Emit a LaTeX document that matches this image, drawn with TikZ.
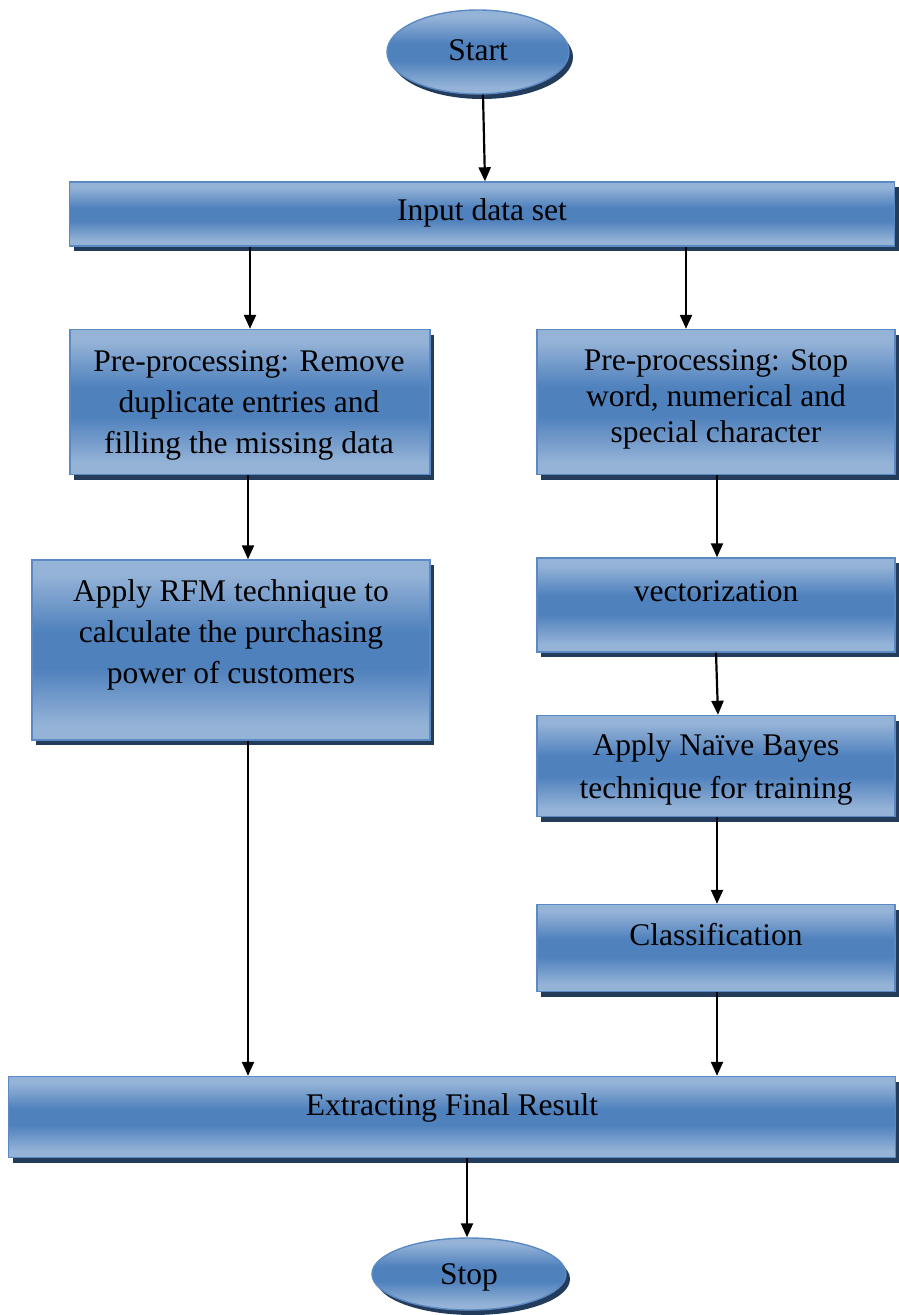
\documentclass[tikz,border=0pt]{standalone}
\usepackage{fontspec}
\setmainfont{Liberation Serif}
\usetikzlibrary{shapes.geometric,shadows,arrows.meta}

\definecolor{boxmid}{RGB}{79,129,189}
\definecolor{boxlight}{RGB}{149,179,215}
\definecolor{boxedge}{RGB}{91,137,196}
\definecolor{boxshade}{RGB}{36,60,92}

% glossy band: light at top and bottom, saturated blue in the middle
\pgfdeclareverticalshading{glossy}{100bp}{%
  color(0bp)=(boxlight); color(29bp)=(boxlight); color(45bp)=(boxmid);
  color(55bp)=(boxmid); color(71bp)=(boxlight); color(100bp)=(boxlight)}

\tikzset{
  x=1pt, y=-1pt,
  base/.style={draw=boxedge, line width=1.4pt, shading=glossy, inner sep=0pt,
    drop shadow={shadow xshift=4pt, shadow yshift=-5pt, fill=boxshade, opacity=1}},
  procbox/.style={base, rectangle},
  terminal/.style={base, ellipse},
  txt/.style={align=center, inner sep=0pt, text=black, font=\fontsize{31.5}{41}\selectfont},
  arr/.style={line width=2.2pt, -{Triangle[length=14pt,width=12pt]}},
}

\begin{document}
\begin{tikzpicture}
\useasboundingbox (0,0) rectangle (899,1315);

% boxes
\node[terminal, minimum width=182pt, minimum height=84pt] (start) at (478,52) {};
\node[procbox, minimum width=825pt, minimum height=64pt] (input) at (482,214) {};
\node[procbox, minimum width=360pt, minimum height=145pt] (prepL) at (250,402) {};
\node[procbox, minimum width=358pt, minimum height=145pt] (prepR) at (716,402) {};
\node[procbox, minimum width=398pt, minimum height=180pt] (rfm) at (231,650) {};
\node[procbox, minimum width=358pt, minimum height=94pt] (vect) at (716,605) {};
\node[procbox, minimum width=358pt, minimum height=101pt] (nb) at (716,766) {};
\node[procbox, minimum width=358pt, minimum height=87pt] (cls) at (716,948) {};
\node[procbox, minimum width=887pt, minimum height=81pt] (final) at (452,1117) {};
\node[terminal, minimum width=194pt, minimum height=72pt] (stop) at (469,1274) {};

% texts
\node[txt] (tStart) at (478,50) {Start};
\node[txt] (tInput) at (482,213) {Input data set};
\node[txt] (tPrepL) at (249,405) {Pre-processing: Remove\\duplicate entries and\\filling the missing data};
\node[txt, font=\fontsize{31.5}{36}\selectfont] (tPrepR) at (716,399) {Pre-processing: Stop\\word, numerical and\\special character};
\node[txt] (tRfm) at (231,635) {Apply RFM technique to\\calculate the purchasing\\power of customers};
\node[txt] (tVect) at (716,591) {vectorization};
\node[txt, font=\fontsize{31.5}{43}\selectfont] (tNb) at (716,769) {Apply Naïve Bayes\\technique for training};
\node[txt] (tCls) at (716,935) {Classification};
\node[txt] (tFinal) at (452,1108) {Extracting Final Result};
\node[txt] (tStop) at (469,1277) {Stop};

% connectors
\draw[arr] ([xshift=5pt]start.south) -- ([xshift=3pt]input.north);
\draw[arr] (prepL.north |- input.south) -- (prepL.north);
\draw[arr] ([xshift=-30pt]prepR.north |- input.south) -- ([xshift=-30pt]prepR.north);
\draw[arr] ([xshift=-2pt]prepL.south) -- ([xshift=-2pt]rfm.north -| prepL.south);
\draw[arr] ([xshift=1pt]prepR.south) -- ([xshift=1pt]vect.north);
\draw[arr] (vect.south) -- ([xshift=2pt]nb.north);
\draw[arr] ([xshift=1pt]nb.south) -- ([xshift=1pt]cls.north);
\draw[arr] ([xshift=1pt]cls.south) -- ([xshift=1pt]cls.south |- final.north);
\draw[arr] ([xshift=-2pt]prepL.south |- rfm.south) -- ([xshift=-2pt]prepL.south |- final.north);
\draw[arr] ([xshift=15pt]final.south) -- ([xshift=-2pt]stop.north);
\end{tikzpicture}
\end{document}
